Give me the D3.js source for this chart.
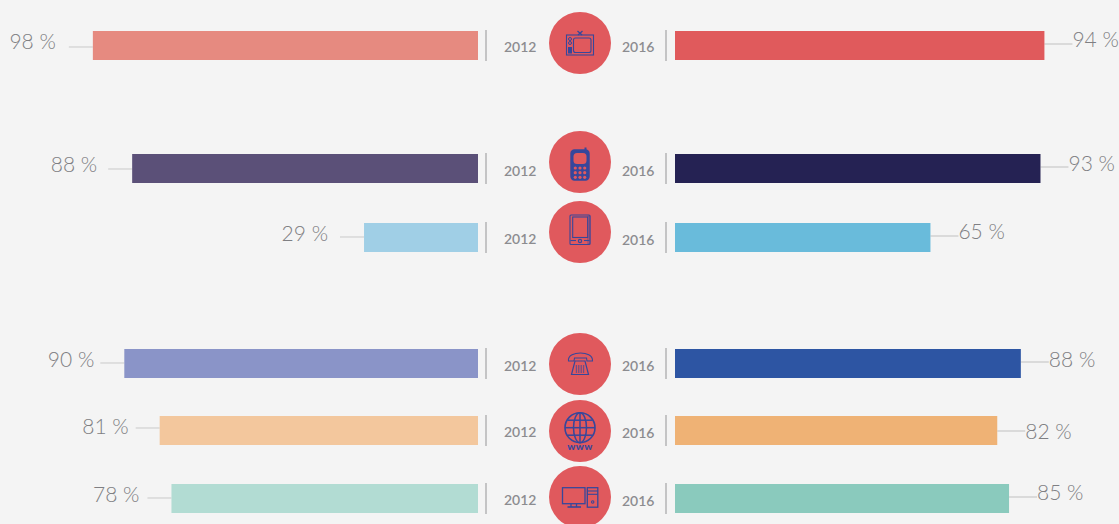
<!DOCTYPE html>
<html>
<head>
<meta charset="utf-8">
<script src="https://cdn.jsdelivr.net/npm/d3@7"></script>
<style>
html, body { margin: 0; padding: 0; background: #f4f4f4; overflow: hidden; }
text { font-family: Lato, sans-serif; fill: #7f7f83; }
.pct { font-size: 21px; font-weight: 300; }
.year { font-size: 14px; font-weight: 600; fill: #8c8c90; }
</style>
</head>
<body>
<svg width="1119" height="524"></svg>
<script>
var categories = ["tv", "mobile", "tablet", "phone", "web", "computer"];
var years = ["2012", "2016"];
var values2012 = [98, 88, 29, 90, 81, 78];
var values2016 = [94, 93, 65, 88, 82, 85];
var colors2012 = ["#e68a80", "#5b5078", "#a0cfe6", "#8a94c8", "#f3c79d", "#b2dcd3"];
var colors2016 = ["#e05a5c", "#252253", "#69bbdb", "#2d55a3", "#efb275", "#8acabd"];

// the rows are not evenly spaced in the original
var rowTops = [31, 154, 223, 349, 416, 484];
var circleYs = [43, 162, 232, 364, 431, 497];
var leaderLeft = [16, 15, 14, 14, 12, 14];
var leaderRight = [13, 13, 13, 13, 15, 13];
var baseLeft = [18, 18, 18, 18, 18, 18];
var baseRight = [16, 17, 16, 18, 23, 16];
var gapLeft = [13, 11, 12, 6, 7, 8];
var yearBase2012 = [21, 22, 21, 22, 21, 21];
var yearBase2016 = [21, 22, 22, 22, 22, 22];

var svg = d3.select("svg");
var iconColor = "#37479b";
var barH = 29;

var xLeft = d3.scaleLinear().domain([0, 100]).range([478, 85]);
var xRight = d3.scaleLinear().domain([0, 100]).range([675, 1068]);
var y = d3.scaleOrdinal().domain(categories).range(rowTops);
var yCircle = d3.scaleOrdinal().domain(categories).range(circleYs);

var rows = categories.map(function(c, i) {
    return {key: c, i: i, a: values2012[i], b: values2016[i]};
});

function leftPart() {
    var g = svg.append("g").attr("class", "left");
    g.selectAll("line.leader").data(rows).enter().append("line")
        .attr("class", "leader")
        .attr("x1", function(d) {return xLeft(d.a) - 24;})
        .attr("x2", function(d) {return xLeft(d.a);})
        .attr("y1", function(d) {return y(d.key) + leaderLeft[d.i];})
        .attr("y2", function(d) {return y(d.key) + leaderLeft[d.i];})
        .attr("stroke", "#c9c9c9").attr("stroke-width", 1);
    g.selectAll("rect").data(rows).enter().append("rect")
        .attr("x", function(d) {return xLeft(d.a);})
        .attr("y", function(d) {return y(d.key);})
        .attr("width", function(d) {return xLeft(0) - xLeft(d.a);})
        .attr("height", barH)
        .attr("fill", function(d) {return colors2012[d.i];});
    g.selectAll("text.pct").data(rows).enter().append("text")
        .attr("class", "pct")
        .attr("text-anchor", "end")
        .attr("x", function(d) {return xLeft(d.a) - 24 - gapLeft[d.i];})
        .attr("y", function(d) {return y(d.key) + baseLeft[d.i];})
        .text(function(d) {return d.a + " %";});
}

function rightPart() {
    var g = svg.append("g").attr("class", "right");
    g.selectAll("line.leader").data(rows).enter().append("line")
        .attr("class", "leader")
        .attr("x1", function(d) {return xRight(d.b);})
        .attr("x2", function(d) {return xRight(d.b) + 28;})
        .attr("y1", function(d) {return y(d.key) + leaderRight[d.i];})
        .attr("y2", function(d) {return y(d.key) + leaderRight[d.i];})
        .attr("stroke", "#d2d2d2").attr("stroke-width", 1.5);
    g.selectAll("rect").data(rows).enter().append("rect")
        .attr("x", xRight(0))
        .attr("y", function(d) {return y(d.key);})
        .attr("width", function(d) {return xRight(d.b) - xRight(0);})
        .attr("height", barH)
        .attr("fill", function(d) {return colors2016[d.i];});
    g.selectAll("text.pct").data(rows).enter().append("text")
        .attr("class", "pct")
        .attr("x", function(d) {return xRight(d.b) + 28;})
        .attr("y", function(d) {return y(d.key) + baseRight[d.i];})
        .text(function(d) {return d.b + " %";});
}

function middle() {
    var g = svg.append("g").attr("class", "middle");
    [486, 666].forEach(function(x) {
        g.selectAll("line.d" + x).data(rows).enter().append("line")
            .attr("x1", x).attr("x2", x)
            .attr("y1", function(d) {return y(d.key) - 1;})
            .attr("y2", function(d) {return y(d.key) + 30;})
            .attr("stroke", "#b4b4b6").attr("stroke-width", 1.5);
    });
    g.selectAll("text.y1").data(rows).enter().append("text")
        .attr("class", "year")
        .attr("x", 504)
        .attr("y", function(d) {return y(d.key) + yearBase2012[d.i];})
        .text(years[0]);
    g.selectAll("text.y2").data(rows).enter().append("text")
        .attr("class", "year")
        .attr("x", 622)
        .attr("y", function(d) {return y(d.key) + yearBase2016[d.i];})
        .text(years[1]);
    g.selectAll("circle").data(rows).enter().append("circle")
        .attr("cx", 580)
        .attr("cy", function(d) {return yCircle(d.key);})
        .attr("r", 31)
        .attr("fill", "#e0595d");
}

function box(g, x, y, w, h, r) {
    return g.append("rect").attr("x", x).attr("y", y).attr("width", w).attr("height", h).attr("rx", r || 0)
        .attr("fill", "none").attr("stroke", iconColor).attr("stroke-width", 1.1);
}
function seg(g, x1, y1, x2, y2, sw) {
    return g.append("line").attr("x1", x1).attr("y1", y1).attr("x2", x2).attr("y2", y2)
        .attr("stroke", iconColor).attr("stroke-width", sw || 1.1);
}
function dot(g, x, y, r) {
    return g.append("circle").attr("cx", x).attr("cy", y).attr("r", r).attr("fill", iconColor);
}

var icons = {
    tv: function(g) {
        box(g, -13.5, -8, 27, 20);
        box(g, -6.5, -5, 17.5, 14.5, 2);
        g.append("rect").attr("x", -12).attr("y", 4).attr("width", 4).attr("height", 6.5).attr("fill", iconColor);
        g.append("circle").attr("cx", -10).attr("cy", -4).attr("r", 1.5)
            .attr("fill", "none").attr("stroke", iconColor).attr("stroke-width", 1);
        g.append("circle").attr("cx", -10).attr("cy", 0).attr("r", 1.5)
            .attr("fill", "none").attr("stroke", iconColor).attr("stroke-width", 1);
        seg(g, -2.5, -12, 2, -8, 1.4);
        seg(g, 2.5, -12, -2, -8, 1.4);
    },
    mobile: function(g) {
        box(g, -8.5, -11.5, 17, 29, 3).attr("stroke-width", 2.4).attr("fill", iconColor);
        g.append("rect").attr("x", -6.5).attr("y", -9).attr("width", 13).attr("height", 11).attr("rx", 3.5)
            .attr("fill", "#e0595d");
        seg(g, 5.5, -14.5, 5.5, -11, 2);
        [-4.7, 0, 4.7].forEach(function(x) {
            [6, 10.7, 15.3].forEach(function(yy) { dot(g, x, yy, 1.6).attr("fill", "#e0595d"); });
        });
    },
    tablet: function(g) {
        box(g, -10, -17, 20, 29.5, 1);
        box(g, -7.3, -15, 15, 20.5);
        box(g, 8, -16, 2, 28).attr("stroke-width", 0.6);
        g.append("circle").attr("cx", 0).attr("cy", 9).attr("r", 1.6)
            .attr("fill", "none").attr("stroke", iconColor).attr("stroke-width", 1.2);
        seg(g, -9.5, 8.5, -4, 8.5);
        seg(g, 4, 8.5, 9.5, 8.5);
    },
    phone: function(g) {
        g.append("path")
            .attr("d", "M-11.5,-3 C-12.5,-9 -5,-11 0.5,-11 C6,-11 13,-9 12.5,-3 L7,-3 L6.5,-6 L-5.5,-6 L-6,-3 Z")
            .attr("fill", "none").attr("stroke", iconColor).attr("stroke-width", 1.1);
        g.append("path")
            .attr("d", "M-5,-3 L5,-3 L8.5,10.5 L-8.5,10.5 Z")
            .attr("fill", "none").attr("stroke", iconColor).attr("stroke-width", 1.2);
        d3.range(4).forEach(function(a) {
            d3.range(4).forEach(function(b) {
                dot(g, -3.6 + a * 2.4, 2 + b * 2, 0.8);
            });
        });
    },
    web: function(g) {
        var cy = -3.3, r = 15;
        g.append("circle").attr("cx", 0).attr("cy", cy).attr("r", r)
            .attr("fill", "none").attr("stroke", iconColor).attr("stroke-width", 1.6);
        g.append("ellipse").attr("cx", 0).attr("cy", cy).attr("rx", 6.5).attr("ry", r)
            .attr("fill", "none").attr("stroke", iconColor).attr("stroke-width", 1.5);
        seg(g, 0, cy - r, 0, cy + r, 1.5);
        seg(g, -r, cy, r, cy, 1.5);
        seg(g, -12.5, cy - 7.5, 12.5, cy - 7.5, 1.5);
        seg(g, -12.5, cy + 7.5, 12.5, cy + 7.5, 1.5);
        g.append("text").attr("text-anchor", "middle").attr("y", 19)
            .style("fill", iconColor).style("font-size", "10px").style("font-weight", 900)
            .style("letter-spacing", "0.4px").text("www");
    },
    computer: function(g) {
        box(g, -17.5, -9.3, 22.5, 16).attr("stroke-width", 1.3);
        seg(g, -9, 7, -9, 10, 1.3);
        seg(g, -3.5, 7, -3.5, 10, 1.3);
        seg(g, -12.5, 10, 1, 10, 1.6);
        box(g, 7.3, -9.3, 10.5, 19.5).attr("stroke-width", 1.3);
        seg(g, 7.3, -6, 17.8, -6);
        seg(g, 7.3, -2.7, 17.8, -2.7);
        g.append("circle").attr("cx", 12.7).attr("cy", 5).attr("r", 1.2)
            .attr("fill", "none").attr("stroke", iconColor).attr("stroke-width", 1.1);
    }
};

leftPart();
rightPart();
middle();

var iconG = svg.append("g").attr("class", "icons");
rows.forEach(function(d) {
    var g = iconG.append("g").attr("transform", "translate(580," + yCircle(d.key) + ")");
    icons[d.key](g);
});
</script>
</body>
</html>
